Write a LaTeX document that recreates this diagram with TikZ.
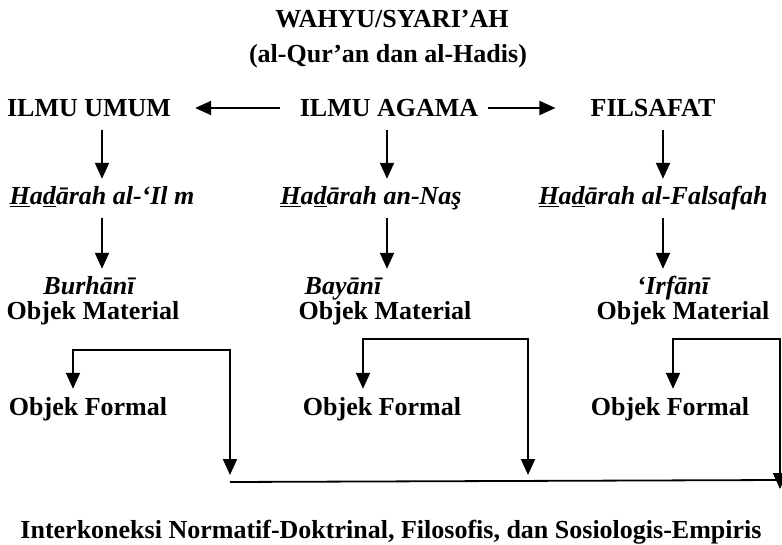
\documentclass[tikz,border=0pt]{standalone}
\usepackage{fontspec}
\setmainfont{Liberation Serif}
\usetikzlibrary{arrows.meta}

\begin{document}
\begin{tikzpicture}[x=1pt, y=-1pt, >={Triangle[width=14pt,length=16pt]},
    lbl/.style={font=\fontsize{26}{30}\selectfont\bfseries, anchor=base,
        inner xsep=0pt, inner ysep=8pt, text height=18pt, text depth=5pt},
    ital/.style={lbl, font=\fontsize{26}{30}\selectfont\bfseries\itshape},
    arr/.style={->, line width=2pt},
    link/.style={<->, line width=2pt, line join=miter}]
    \useasboundingbox (0,0) rectangle (782,545);

    % Title
    \node[lbl] (wahyu) at (392,28) {WAHYU/SYARI’AH};
    \node[lbl] (sumber) at (388,63) {(al-Qur’an dan al-Hadis)};

    % Three branches
    \node[lbl] (umum) at (89,117) {ILMU UMUM};
    \node[lbl] (agama) at (389,117) {ILMU AGAMA};
    \node[lbl] (filsafat) at (653,117) {FILSAFAT};
    \draw[arr, shorten <=20pt, shorten >=24pt] ([yshift=2.5pt]agama.west) -- ([yshift=2.5pt]umum.east);
    \draw[arr, shorten <=10pt, shorten >=35pt] ([yshift=2.5pt]agama.east) -- ([yshift=2.5pt]filsafat.west);

    % Column axes
    \coordinate (cA) at (102,0);
    \coordinate (cB) at (387,0);
    \coordinate (cC) at (663,0);

    % Hadarah row
    \node[ital] (hA) at (102,205) {\underline{H}a\underline{d}ārah al-‘Il m};
    \node[ital] (hB) at (371,205) {\underline{H}a\underline{d}ārah an-Naş};
    \node[ital] (hC) at (653,205) {\underline{H}a\underline{d}ārah al-Falsafah};
    \draw[arr] (umum.south -| cA) -- (hA.north -| cA);
    \draw[arr] (agama.south -| cB) -- (hB.north -| cB);
    \draw[arr] (filsafat.south -| cC) -- (hC.north -| cC);

    % Epistemologies
    \node[ital] (eA) at (89,295) {Burhānī};
    \node[ital] (eB) at (343,295) {Bayānī};
    \node[ital] (eC) at (673,295) {‘Irfānī};
    \draw[arr] (hA.south -| cA) -- (eA.north -| cA);
    \draw[arr] (hB.south -| cB) -- (eB.north -| cB);
    \draw[arr] (hC.south -| cC) -- (eC.north -| cC);

    % Objek material and formal
    \node[lbl] (omA) at (93,320) {Objek Material};
    \node[lbl] (omB) at (385,320) {Objek Material};
    \node[lbl] (omC) at (683,320) {Objek Material};
    \node[lbl] (ofA) at (88,415) {Objek Formal};
    \node[lbl] (ofB) at (382,415) {Objek Formal};
    \node[lbl] (ofC) at (670,415) {Objek Formal};

    % Bracket corners and tips
    \coordinate (kA) at (73,350);  \coordinate (kA2) at (230,350); \coordinate (tA) at (230,475);
    \coordinate (kB) at (363,339); \coordinate (kB2) at (528,339); \coordinate (tB) at (528,475);
    \coordinate (kC) at (673,339); \coordinate (kC2) at (780,339); \coordinate (tC) at (780,489);
    \draw[link] (ofA.north -| kA) -- (kA) -- (kA2) -- (tA);
    \draw[link] (ofB.north -| kB) -- (kB) -- (kB2) -- (tB);
    \draw[link] (ofC.north -| kC) -- (kC) -- (kC2) -- (tC);

    % Joining line
    \coordinate (lineL) at (230,482);
    \coordinate (lineR) at (782,480);
    \draw[line width=1.8pt] (lineL) -- (lineR);

    % Result
    \node[lbl] (hasil) at (391,538) {Interkoneksi Normatif-Doktrinal, Filosofis, dan Sosiologis-Empiris};

\end{tikzpicture}
\end{document}
